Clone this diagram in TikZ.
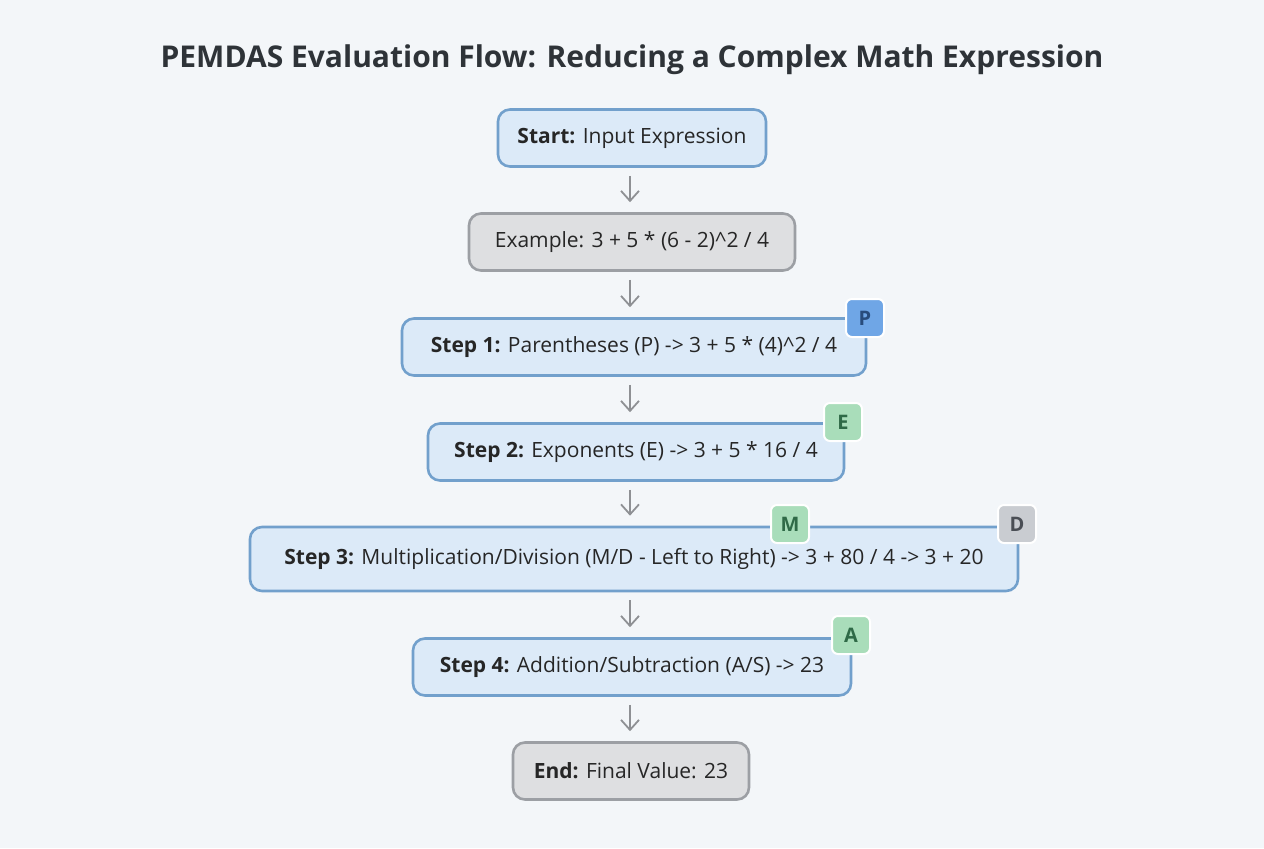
\documentclass[tikz,border=0pt]{standalone}
\usepackage{fontspec}
\setmainfont{Open Sans}
\usetikzlibrary{arrows.meta}
\definecolor{bgc}{HTML}{F3F6F9}
\definecolor{stepfill}{HTML}{DCEAF8}
\definecolor{stepline}{HTML}{72A0CC}
\definecolor{grayfill}{HTML}{DEDFE1}
\definecolor{grayline}{HTML}{9C9FA4}
\definecolor{pfill}{HTML}{6FA6E6}
\definecolor{ptext}{HTML}{284C7C}
\definecolor{efill}{HTML}{A9DDBA}
\definecolor{etext}{HTML}{2F6A47}
\definecolor{dfill}{HTML}{C9CCD1}
\definecolor{dtext}{HTML}{4A4E55}
\definecolor{arrowc}{HTML}{8E9094}
\definecolor{titlec}{HTML}{2E3338}

\tikzset{
  stepbox/.style={
    rectangle,
    rounded corners=6,
    draw=stepline,
    line width=1.3pt,
    fill=stepfill,
    minimum height=28.5,
    font=\fontsize{10.5}{12}\selectfont,
    text=black!85,
  },
  terminal/.style={
    stepbox,
    draw=grayline,
    fill=grayfill,
  },
  badge/.style={
    rectangle,
    rounded corners=3,
    draw=white,
    line width=1pt,
    minimum size=19,
    inner sep=0pt,
    font=\fontsize{10}{12}\selectfont\bfseries,
  },
  flow/.style={
    -{Straight Barb[length=5pt,width=9pt]},
    draw=arrowc,
    line width=0.9pt,
  },
}

\begin{document}
\begin{tikzpicture}[x=0.5pt, y=-0.5pt]

  \fill[bgc] (0,0) rectangle (1264,848);

  \node[font=\fontsize{15}{18}\selectfont\bfseries, text=titlec] (title) at (632,60)
    {PEMDAS Evaluation Flow: Reducing a Complex Math Expression};

  \node[stepbox, minimum width=134] (start) at (632,138) {\textbf{Start:} Input Expression};
  \node[terminal, minimum width=163] (example) at (632,242) {Example: 3 + 5 * (6 - 2)\^{}2 / 4};
  \node[stepbox, minimum width=232] (s1) at (634,347) {\textbf{Step 1:} Parentheses (P) -> 3 + 5 * (4)\^{}2 / 4};
  \node[stepbox, minimum width=208] (s2) at (636,452) {\textbf{Step 2:} Exponents (E) -> 3 + 5 * 16 / 4};
  \node[stepbox, minimum width=384, minimum height=32] (s3) at (634,559)
    {\textbf{Step 3:} Multiplication/Division (M/D - Left to Right) -> 3 + 80 / 4 -> 3 + 20};
  \node[stepbox, minimum width=219] (s4) at (632,667) {\textbf{Step 4:} Addition/Subtraction (A/S) -> 23};
  \node[terminal, minimum width=118] (end) at (631,771) {\textbf{End:} Final Value: 23};

  % badges on the corners
  \node[badge, fill=pfill, text=ptext] (bp) at (865,318) {P};
  \node[badge, fill=efill, text=etext] (be) at (843,422) {E};
  \node[badge, fill=efill, text=etext] (bm) at (790,524) {M};
  \node[badge, fill=dfill, text=dtext] (bd) at (1017,524) {D};
  \node[badge, fill=efill, text=etext] (ba) at (851,635) {A};

  \coordinate (axis) at (630,0);
  \foreach \a/\b in {start/example, example/s1, s1/s2, s2/s3, s3/s4, s4/end}
    \draw[flow] ([yshift=-4pt]\a.south -| axis) -- ([yshift=5pt]\b.north -| axis);

\end{tikzpicture}
\end{document}
